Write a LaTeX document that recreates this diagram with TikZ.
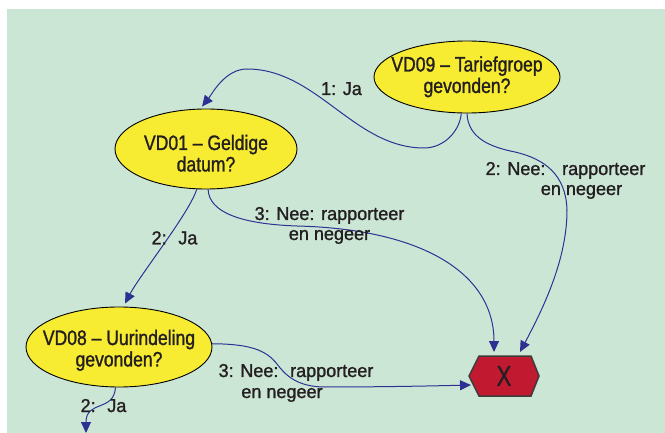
\documentclass[tikz,border=0pt]{standalone}
\usepackage{fontspec}
\setmainfont{Liberation Sans}
\newfontfamily\ellfont[FakeStretch=0.84,FakeBold=1.2]{Liberation Sans}
\newfontfamily\lblfont[FakeStretch=0.97,FakeBold=1.2]{Liberation Sans}
\newfontfamily\bigfont[FakeStretch=0.77,FakeBold=0.8]{Liberation Sans}
\usetikzlibrary{shapes.geometric,arrows.meta,calc}

\definecolor{panel}{RGB}{204,230,214}
\definecolor{qyellow}{RGB}{248,236,50}
\definecolor{flowblue}{RGB}{46,49,146}
\definecolor{stopred}{RGB}{193,26,48}
\definecolor{ink}{RGB}{35,31,32}
\definecolor{hexedge}{RGB}{60,60,60}

% two centred lines in a zero-size box; #1 = drop of the first baseline below the node centre
\newcommand\twolines[2]{\makebox[0pt]{\raisebox{-#1pt}[0pt][0pt]{\begin{tabular}[t]{@{}c@{}}#2\end{tabular}}}}

\begin{document}
\begin{tikzpicture}[x=1pt,y=-1pt,
  ell/.style={ellipse,draw=black,line width=0.9pt,fill=qyellow,inner sep=0pt,
    text=ink,font=\ellfont\fontsize{20.9}{21}\selectfont},
  lbl/.style={anchor=base,inner sep=0pt,text=ink,font=\lblfont\fontsize{18.6}{20}\selectfont},
  flow/.style={draw=flowblue,line width=1pt,
    -{Triangle[length=11pt,width=10pt,fill=flowblue]}}]

\useasboundingbox (0,0) rectangle (665,433);
\fill[white] (0,0) rectangle (665,433);
\fill[panel] (7,9) rectangle (665,433);

% decision nodes
\node[ell,minimum width=186pt,minimum height=72pt] (vd09) at (467,77)
  {\twolines{-5.5}{VD09 – Tariefgroep\\gevonden?}};
\node[ell,minimum width=182pt,minimum height=80pt] (vd01) at (206,149)
  {\twolines{1}{VD01 – Geldige\\datum?}};
\node[ell,minimum width=186pt,minimum height=80pt] (vd08) at (119,347)
  {\twolines{-2}{VD08 – Uurindeling\\gevonden?}};

% stop node: hexagon with a cross
\coordinate (xc) at (504,376);
\filldraw[fill=stopred,draw=hexedge,line width=1.5pt,line join=miter]
  ($(xc)+(-35,0)$) -- ($(xc)+(-25,-20)$) -- ($(xc)+(27,-20)$) -- ($(xc)+(35,0)$)
  -- ($(xc)+(27,20)$) -- ($(xc)+(-25,20)$) -- cycle;
\node[inner sep=0pt,text=ink,font=\bigfont\fontsize{29}{30}\selectfont] (x) at (xc) {X};

\coordinate (out) at (86,433);

% connectors
\draw[flow] (vd09.261) .. controls (460,130) and (445,148) .. (424,148)
  .. controls (354,148) and (317,69) .. (247,69)
  .. controls (225,69) and (212,94) .. ($(vd01.north)+(-4,-2)$);
\draw[flow] (vd09.270) .. controls (468,138) and (490,147) .. (515,152)
  .. controls (545,159) and (566,175) .. (567,210)
  .. controls (567,258) and (545,305) .. ($(xc)+(16,-24)$);
\draw[flow] (vd01.273) .. controls (209,212) and (240,224) .. (297,226)
  .. controls (420,229) and (494,272) .. ($(xc)+(-10,-24)$);
\draw[flow] (vd01.257) .. controls (190,212) and (140,275) .. ($(vd08.north)+(6,-3)$);
\draw[flow] (vd08.2) .. controls (250,344) and (266,350) .. (277,364)
  .. controls (284,373) and (295,387) .. (325,387)
  .. controls (380,387) and (430,386) .. ($(xc)+(-33,9)$);
\draw[flow] (vd08.265) .. controls (114,412) and (86,400) .. (out);

% connector labels
\node[lbl] (l1) at (341.5,95) {1: Ja};
\node[lbl] (l2a) at (565.5,175) {2: Nee:\hspace{10pt} rapporteer};
\node[lbl] (l2b) at (581.5,195) {en negeer};
\node[lbl] (l3a) at (329.5,220) {3: Nee: rapporteer};
\node[lbl] (l3b) at (329.5,240) {en negeer};
\node[lbl] (l4) at (174.5,244.3) {2:\hspace{5pt} Ja};
\node[lbl] (l5a) at (296,377) {3: Nee:\hspace{5pt} rapporteer};
\node[lbl] (l5b) at (282,398) {en negeer};
\node[lbl] (l6) at (103.5,412) {2:\hspace{5pt} Ja};
\end{tikzpicture}
\end{document}
